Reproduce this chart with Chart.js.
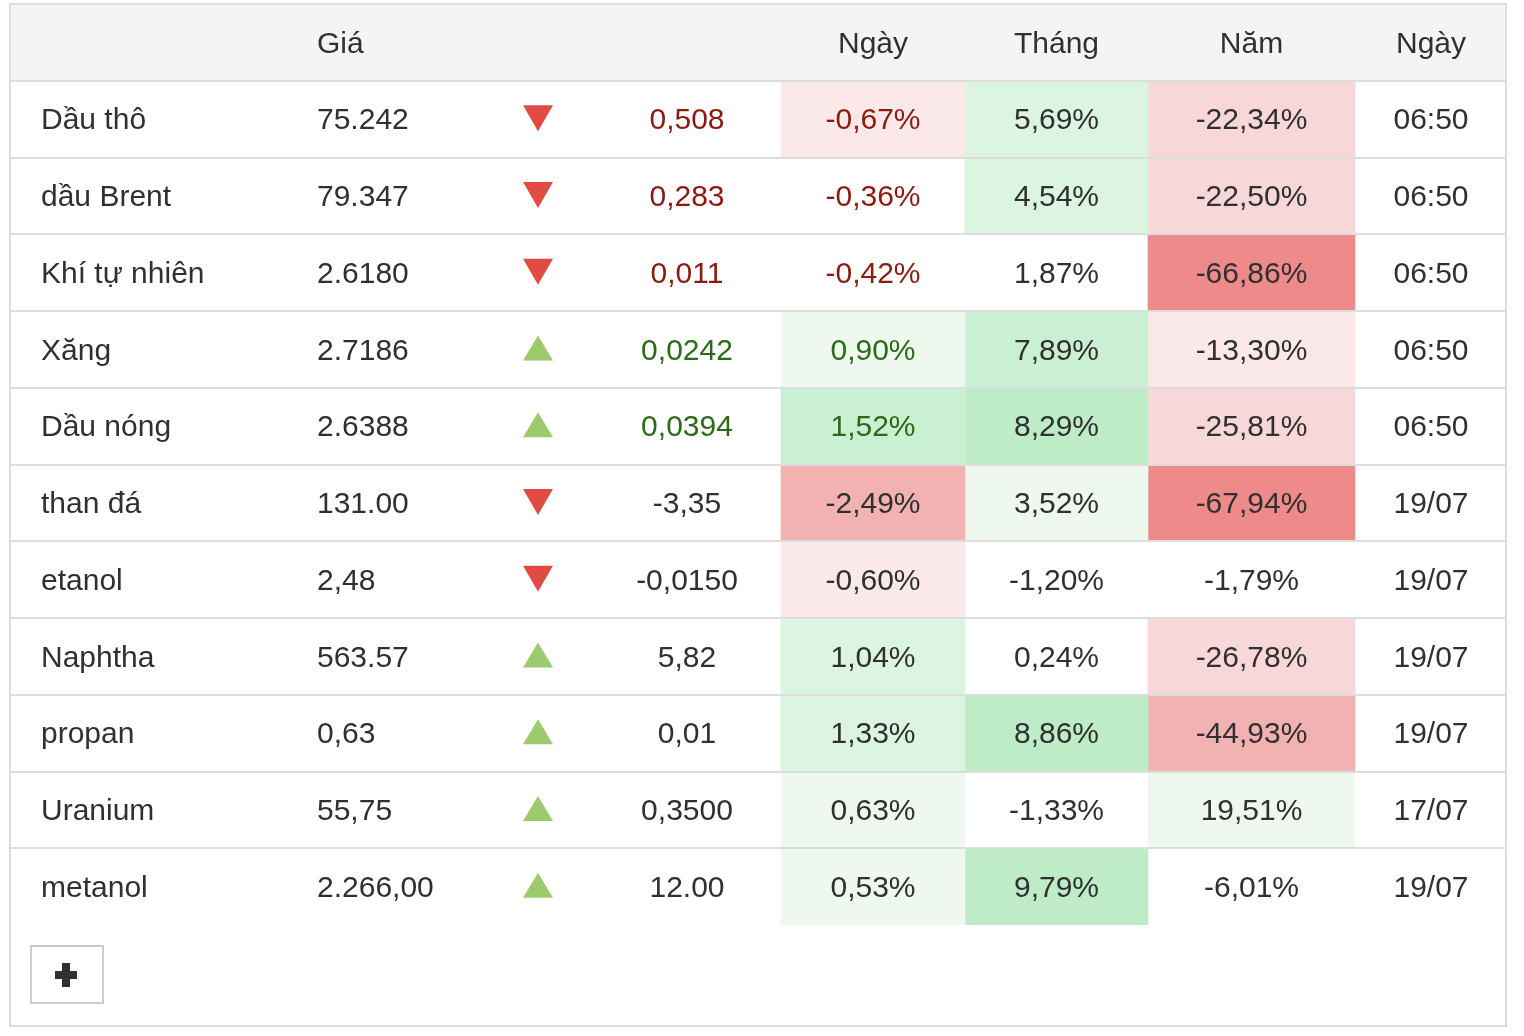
<!DOCTYPE html>
<html>
<head>
<meta charset="utf-8">
<script src="https://cdn.jsdelivr.net/npm/chart.js@4/dist/chart.umd.min.js"></script>
<style>
  html, body { margin: 0; padding: 0; background: #fff; overflow: hidden; }
  #wrap { width: 1524px; height: 1036px; position: relative; }
</style>
</head>
<body>
<div id="wrap"><canvas id="tbl"></canvas></div>
<script>
// === Data ===
const headers = ['', 'Giá', '', '', 'Ngày', 'Tháng', 'Năm', 'Ngày'];
const names = ['Dầu thô', 'dầu Brent', 'Khí tự nhiên', 'Xăng', 'Dầu nóng', 'than đá', 'etanol', 'Naphtha', 'propan', 'Uranium', 'metanol'];
const prices = ['75.242', '79.347', '2.6180', '2.7186', '2.6388', '131.00', '2,48', '563.57', '0,63', '55,75', '2.266,00'];
const changes = ['0,508', '0,283', '0,011', '0,0242', '0,0394', '-3,35', '-0,0150', '5,82', '0,01', '0,3500', '12.00'];
const dayPct = [-0.67, -0.36, -0.42, 0.90, 1.52, -2.49, -0.60, 1.04, 1.33, 0.63, 0.53];
const monthPct = [5.69, 4.54, 1.87, 7.89, 8.29, 3.52, -1.20, 0.24, 8.86, -1.33, 9.79];
const yearPct = [-22.34, -22.50, -66.86, -13.30, -25.81, -67.94, -1.79, -26.78, -44.93, 19.51, -6.01];
const times = ['06:50', '06:50', '06:50', '06:50', '06:50', '19/07', '19/07', '19/07', '19/07', '17/07', '19/07'];

// === Layout / style ===
const COL = [0, 276, 474, 584, 772, 956, 1139, 1346, 1498]; // column edges in table units
const FONT = "30px 'Liberation Sans', Arial, sans-serif";
const TEXT = '#303030';
const RED_TXT = '#8b1a10';
const GREEN_TXT = '#2b6a17';
const GREENS = ['#eef8ef', '#dcf5e1', '#caf0d3', '#bdecc7'];
const REDS = ['#fbe9e9', '#f8d7d8', '#f2b2b2', '#ef8a8a'];
const LINE = '#dddddd';
const TEXT_DY = 2; // baseline nudge

const rowLabels = ['header', ...names];

function fmtPct(v) {
    return v.toFixed(2).replace('.', ',') + '%';
}

function shade(v, steps) {
    const lvl = steps.filter(s => Math.abs(v) >= s).length;
    if (!lvl) return 'rgba(0,0,0,0)';
    return (v < 0 ? REDS : GREENS)[lvl - 1];
}

function cellDataset(col, values, steps) {
    return {
        data: rowLabels.map((_, i) => i === 0 ? null : [COL[col], COL[col + 1]]),
        backgroundColor: rowLabels.map((_, i) => i === 0 ? 'rgba(0,0,0,0)' : shade(values[i - 1], steps))
    };
}

// =========================
// Text, lines, arrows, button
// =========================
const tablePlugin = {
    id: 'tableText',
    afterDatasetsDraw(chart) {
        const { ctx, chartArea: a, scales: { x, y } } = chart;
        const band = y.getPixelForValue(1) - y.getPixelForValue(0);
        const colX = i => x.getPixelForValue(COL[i]);
        const colMid = i => (colX(i) + colX(i + 1)) / 2;

        ctx.save();
        // row separators
        ctx.strokeStyle = LINE;
        ctx.lineWidth = 2;
        for (let i = 0; i < names.length; i++) {
            const yy = Math.round(y.getPixelForValue(i) + band / 2);
            ctx.beginPath();
            ctx.moveTo(a.left, yy);
            ctx.lineTo(a.right, yy);
            ctx.stroke();
        }
        // outer border
        ctx.strokeRect(a.left + 1, a.top, a.right - a.left - 2, chart.height - a.top - 10);

        ctx.font = FONT;
        ctx.textBaseline = 'middle';

        // header
        const hy = y.getPixelForValue(0) + TEXT_DY;
        ctx.fillStyle = TEXT;
        headers.forEach((h, i) => {
            if (!h) return;
            if (i === 1) {
                ctx.textAlign = 'left';
                ctx.fillText(h, colX(i) + 32, hy);
            } else {
                ctx.textAlign = 'center';
                ctx.fillText(h, colMid(i), hy);
            }
        });

        // rows
        names.forEach((name, r) => {
            const cy = y.getPixelForValue(r + 1);
            const ty = cy + TEXT_DY;
            const live = times[r].includes(':');
            const accent = live ? (dayPct[r] < 0 ? RED_TXT : GREEN_TXT) : TEXT;

            ctx.textAlign = 'left';
            ctx.fillStyle = TEXT;
            ctx.fillText(name, colX(0) + 32, ty);
            ctx.fillText(prices[r], colX(1) + 32, ty);

            // arrow
            const ax = colMid(2);
            const ay = cy - 1;
            ctx.beginPath();
            if (dayPct[r] < 0) {
                ctx.fillStyle = '#e04b44';
                ctx.moveTo(ax - 15, ay - 13);
                ctx.lineTo(ax + 15, ay - 13);
                ctx.lineTo(ax, ay + 13);
            } else {
                ctx.fillStyle = '#9ccb6e';
                ctx.moveTo(ax - 15, ay + 12);
                ctx.lineTo(ax + 15, ay + 12);
                ctx.lineTo(ax, ay - 13);
            }
            ctx.closePath();
            ctx.fill();

            ctx.textAlign = 'center';
            ctx.fillStyle = accent;
            ctx.fillText(changes[r], colMid(3), ty);
            ctx.fillText(fmtPct(dayPct[r]), colMid(4), ty);
            ctx.fillStyle = TEXT;
            ctx.fillText(fmtPct(monthPct[r]), colMid(5), ty);
            ctx.fillText(fmtPct(yearPct[r]), colMid(6), ty);
            ctx.fillText(times[r], colMid(7), ty);
        });

        // "+" button below the table
        const bx = a.left + 22, by = a.bottom + 21;
        ctx.strokeStyle = '#cccccc';
        ctx.lineWidth = 2;
        ctx.strokeRect(bx, by, 72, 57);
        ctx.fillStyle = TEXT;
        const px = bx + 35, py = by + 29;
        ctx.fillRect(px - 11, py - 4, 22, 8);
        ctx.fillRect(px - 4, py - 12, 8, 24);
        ctx.restore();
    }
};

// === On load ===
document.addEventListener('DOMContentLoaded', function() {
    const ctx = document.getElementById('tbl').getContext('2d');
    new Chart(ctx, {
        type: 'bar',
        data: {
            labels: rowLabels,
            datasets: [
                {
                    data: rowLabels.map((_, i) => i === 0 ? [COL[0], COL[COL.length - 1]] : null),
                    backgroundColor: '#f4f4f4'
                },
                cellDataset(4, dayPct, [0.5, 1, 1.5, 3]),
                cellDataset(5, monthPct, [2, 4, 6, 8]),
                cellDataset(6, yearPct, [10, 20, 40, 60])
            ]
        },
        options: {
            indexAxis: 'y',
            responsive: true,
            maintainAspectRatio: false,
            animation: false,
            events: [],
            layout: { padding: { left: 9, right: 17, top: 4, bottom: 111 } },
            datasets: {
                bar: { grouped: false, barPercentage: 1, categoryPercentage: 1, borderWidth: 0 }
            },
            plugins: {
                legend: { display: false },
                tooltip: { enabled: false }
            },
            scales: {
                x: { type: 'linear', min: COL[0], max: COL[COL.length - 1], display: false },
                y: { type: 'category', offset: true, display: false }
            }
        },
        plugins: [tablePlugin]
    });
});
</script>
</body>
</html>
